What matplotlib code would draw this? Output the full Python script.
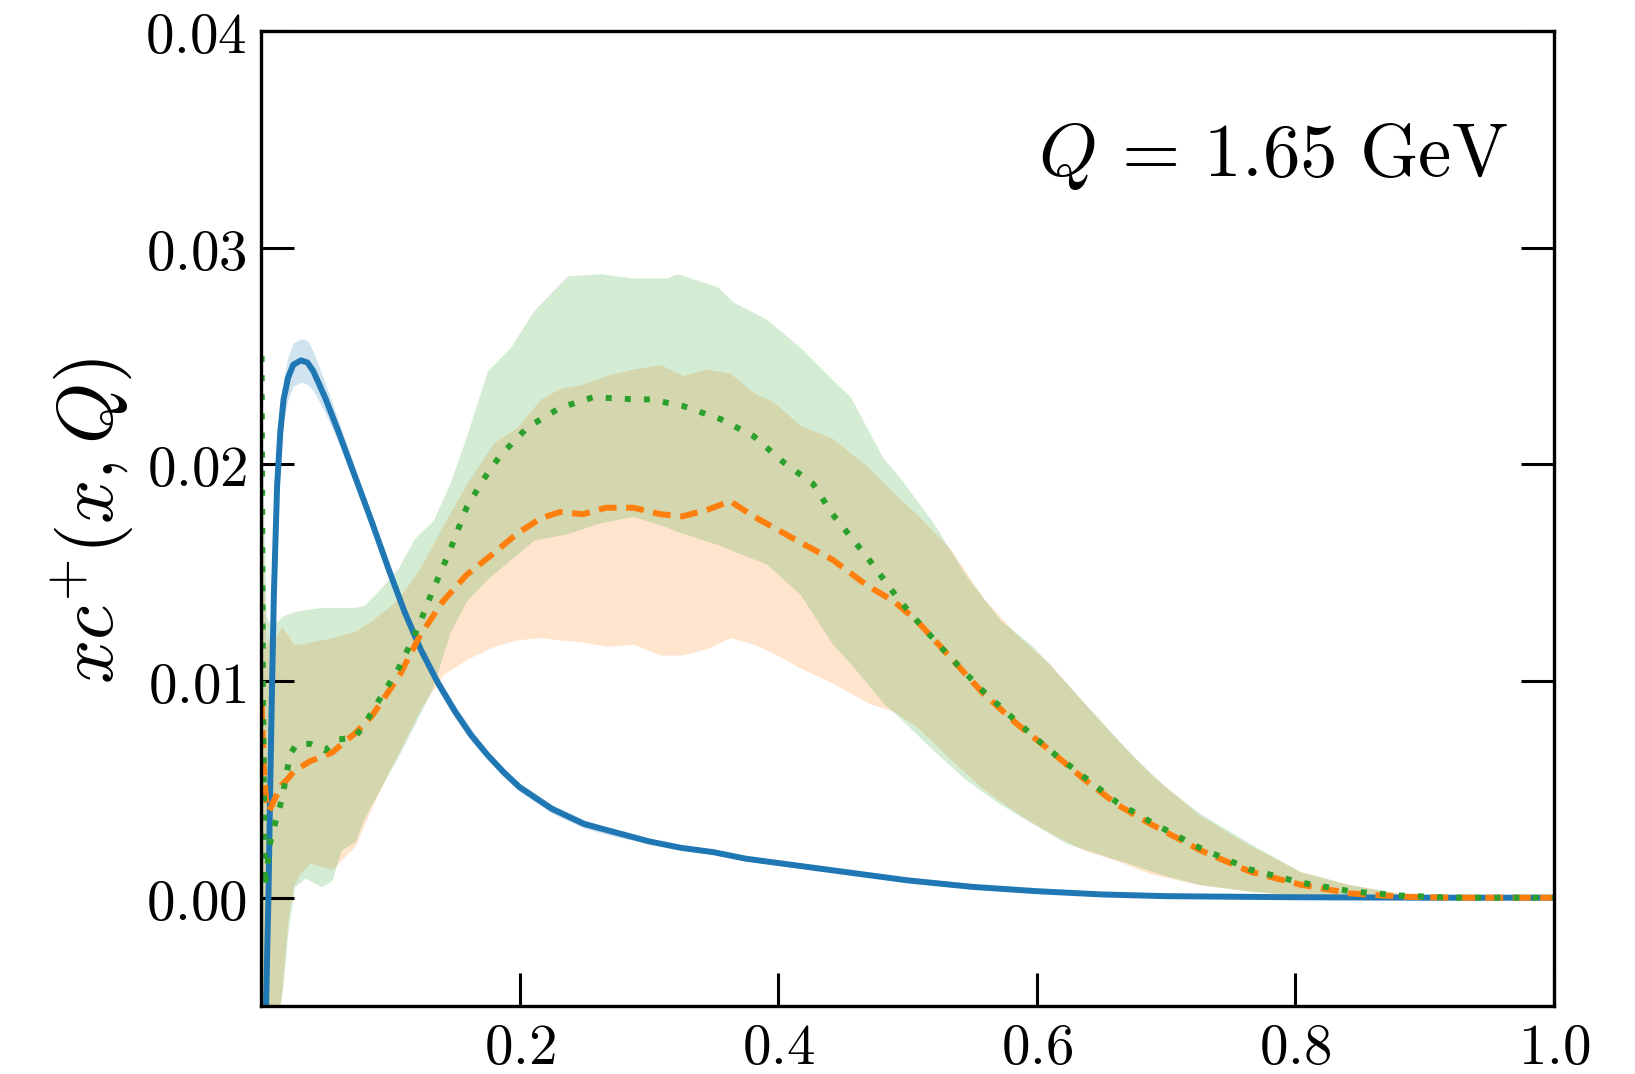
import numpy as np
import matplotlib
matplotlib.use("Agg")
import matplotlib.pyplot as plt
from matplotlib.ticker import FuncFormatter

plt.rcParams['mathtext.fontset'] = 'cm'
plt.rcParams['font.family'] = 'serif'

# === blue: solid curve + narrow band ===
blue_x = [0.0035, 0.0050, 0.0058, 0.0070, 0.0085, 0.0100, 0.0125, 0.0150, 0.0175, 0.0210,
          0.0250, 0.0310, 0.0360, 0.0405, 0.0495, 0.0600, 0.0730, 0.0860, 0.0985, 0.1110,
          0.1240, 0.1370, 0.1500, 0.1625, 0.1750, 0.1875, 0.2000, 0.2125, 0.2250, 0.2500,
          0.2750, 0.3000, 0.3250, 0.3500, 0.3750, 0.4000, 0.4500, 0.5000, 0.5500, 0.6000,
          0.6500, 0.7000, 0.8000, 0.9000, 1.0000]
blue_y = [-0.0065, -0.0020, 0.0000, 0.0045, 0.0095, 0.0140, 0.0190, 0.0215, 0.0230, 0.0240,
          0.0246, 0.0248, 0.0247, 0.0243, 0.0231, 0.0215, 0.0194, 0.0173, 0.0152, 0.0132,
          0.0114, 0.0099, 0.0086, 0.0075, 0.0066, 0.0058, 0.0051, 0.0046, 0.0041, 0.0034,
          0.0030, 0.0026, 0.0023, 0.0021, 0.0018, 0.0016, 0.0012, 0.0008, 0.0005, 0.0003,
          0.00015, 0.00007, 0.00002, 0.0, 0.0]
blue_lo = [-0.0075, -0.0030, -0.0008, 0.0036, 0.0086, 0.0130, 0.0180, 0.0205, 0.0220, 0.0230,
           0.0236, 0.0238, 0.0237, 0.0234, 0.0224, 0.0210, 0.0190, 0.0170, 0.0149, 0.0129,
           0.0111, 0.0096, 0.0083, 0.0073, 0.0064, 0.0056, 0.0049, 0.0044, 0.0039, 0.0032,
           0.0028, 0.0025, 0.0022, 0.0020, 0.0017, 0.0015, 0.0011, 0.0007, 0.0004, 0.0002,
           0.0001, 0.00005, 0.00001, 0.0, 0.0]
blue_hi = [-0.0055, -0.0010, 0.0008, 0.0054, 0.0104, 0.0150, 0.0200, 0.0225, 0.0240, 0.0250,
           0.0256, 0.0258, 0.0257, 0.0252, 0.0238, 0.0220, 0.0198, 0.0176, 0.0155, 0.0135,
           0.0117, 0.0102, 0.0089, 0.0078, 0.0068, 0.0060, 0.0053, 0.0048, 0.0043, 0.0036,
           0.0031, 0.0027, 0.0024, 0.0022, 0.0019, 0.0017, 0.0013, 0.0009, 0.0006, 0.0004,
           0.0002, 0.00009, 0.00003, 0.0, 0.0]

# === orange: dashed curve + band ===
orange_x = [0.0005, 0.0020, 0.0040, 0.0060, 0.0080, 0.0110, 0.0160, 0.0210, 0.0250, 0.0300,
            0.0380, 0.0550, 0.0730, 0.0860, 0.0985, 0.1075, 0.1230, 0.1410, 0.1590, 0.1800,
            0.1980, 0.2160, 0.2310, 0.2490, 0.2670, 0.2880, 0.3090, 0.3260, 0.3450, 0.3630,
            0.3810, 0.3960, 0.4170, 0.4420, 0.4690, 0.4890, 0.5070, 0.5330, 0.5590, 0.5850,
            0.6100, 0.6360, 0.6620, 0.6880, 0.7260, 0.7650, 0.8040, 0.8420, 0.8810, 0.9200, 1.0000]
orange_y = [0.0090, 0.0062, 0.0045, 0.0040, 0.0042, 0.0046, 0.0052, 0.0055, 0.0058, 0.0060,
            0.0063, 0.0067, 0.0076, 0.0084, 0.0095, 0.0103, 0.0121, 0.0137, 0.0149, 0.0159,
            0.0168, 0.0175, 0.0178, 0.0177, 0.0180, 0.0180, 0.0177, 0.0176, 0.0179, 0.0183,
            0.0176, 0.0171, 0.0164, 0.0156, 0.0144, 0.0137, 0.0128, 0.0111, 0.0094, 0.0080,
            0.0068, 0.0055, 0.0043, 0.0034, 0.0022, 0.0012, 0.0006, 0.0002, 0.00005, 0.0, 0.0]
orange_lo = [-0.0080, -0.0080, -0.0080, -0.0075, -0.0070, -0.0060, -0.0045, -0.0009, 0.0005, 0.0011,
             0.0016, 0.0013, 0.0024, 0.0042, 0.0058, 0.0068, 0.0087, 0.0103, 0.0110, 0.0116,
             0.0119, 0.0120, 0.0119, 0.0118, 0.0116, 0.0117, 0.0112, 0.0112, 0.0115, 0.0120,
             0.0117, 0.0113, 0.0106, 0.0099, 0.0090, 0.0086, 0.0079, 0.0064, 0.0050, 0.0039,
             0.0030, 0.0022, 0.0017, 0.0011, 0.0006, 0.0003, 0.0001, 0.0, 0.0, 0.0, 0.0]
orange_hi = [0.0200, 0.0150, 0.0115, 0.0120, 0.0118, 0.0120, 0.0125, 0.0121, 0.0117, 0.0117,
             0.0118, 0.0120, 0.0123, 0.0128, 0.0134, 0.0139, 0.0152, 0.0172, 0.0191, 0.0210,
             0.0217, 0.0230, 0.0235, 0.0237, 0.0241, 0.0244, 0.0246, 0.0241, 0.0244, 0.0242,
             0.0233, 0.0229, 0.0218, 0.0212, 0.0199, 0.0187, 0.0177, 0.0161, 0.0138, 0.0121,
             0.0108, 0.0090, 0.0073, 0.0057, 0.0038, 0.0024, 0.0012, 0.0006, 0.0002, 0.0, 0.0]

# === green: dotted curve + band ===
green_x = [0.0005, 0.0015, 0.0030, 0.0050, 0.0070, 0.0108, 0.0147, 0.0173, 0.0198, 0.0224,
           0.0276, 0.0380, 0.0495, 0.0598, 0.0727, 0.0800, 0.0882, 0.0960, 0.1040, 0.1100,
           0.1217, 0.1330, 0.1460, 0.1590, 0.1720, 0.1850, 0.2060, 0.2310, 0.2570, 0.2880,
           0.3010, 0.3260, 0.3550, 0.3810, 0.4040, 0.4270, 0.4420, 0.4690, 0.4940, 0.5070,
           0.5330, 0.5590, 0.5850, 0.6100, 0.6360, 0.6620, 0.6880, 0.7260, 0.7650, 0.8040,
           0.8420, 0.8810, 0.9200, 1.0000]
green_y = [0.0250, 0.0100, 0.0005, 0.0015, 0.0025, 0.0034, 0.0042, 0.0049, 0.0057, 0.0066,
           0.0071, 0.0071, 0.0068, 0.0073, 0.0074, 0.0080, 0.0088, 0.0096, 0.0103, 0.0110,
           0.0125, 0.0142, 0.0160, 0.0180, 0.0193, 0.0204, 0.0217, 0.0226, 0.0231, 0.0230,
           0.0230, 0.0227, 0.0221, 0.0213, 0.0201, 0.0191, 0.0177, 0.0157, 0.0137, 0.0128,
           0.0111, 0.0095, 0.0081, 0.0068, 0.0056, 0.0044, 0.0035, 0.0023, 0.0013, 0.0007,
           0.0003, 0.0001, 0.0, 0.0]
green_band_x = [0.0005, 0.0020, 0.0040, 0.0080, 0.0130, 0.0170, 0.0210, 0.0260, 0.0340, 0.0470,
                0.0550, 0.0620, 0.0730, 0.0800, 0.0930, 0.1060, 0.1190, 0.1330, 0.1460, 0.1590,
                0.1750, 0.1930, 0.2110, 0.2370, 0.2620, 0.2880, 0.3140, 0.3220, 0.3530, 0.3650,
                0.3910, 0.4170, 0.4420, 0.4560, 0.4810, 0.4940, 0.5200, 0.5460, 0.5720, 0.5970,
                0.6230, 0.6490, 0.6750, 0.7000, 0.7260, 0.7650, 0.8040, 0.8420, 0.8810, 0.9200, 1.0000]
green_lo = [-0.0080, -0.0080, -0.0080, -0.0075, -0.0060, -0.0040, -0.0015, 0.0005, 0.0009, 0.0005,
            0.0008, 0.0022, 0.0026, 0.0037, 0.0051, 0.0065, 0.0080, 0.0097, 0.0122, 0.0137,
            0.0147, 0.0156, 0.0165, 0.0168, 0.0173, 0.0176, 0.0171, 0.0169, 0.0163, 0.0160,
            0.0154, 0.0140, 0.0117, 0.0108, 0.0090, 0.0083, 0.0068, 0.0054, 0.0043, 0.0034,
            0.0025, 0.0020, 0.0015, 0.0010, 0.0006, 0.0003, 0.0001, 0.0, 0.0, 0.0, 0.0]
green_hi = [0.0260, 0.0180, 0.0130, 0.0125, 0.0128, 0.0130, 0.0131, 0.0132, 0.0133, 0.0134,
            0.0134, 0.0134, 0.0134, 0.0135, 0.0143, 0.0152, 0.0166, 0.0174, 0.0191, 0.0213,
            0.0243, 0.0254, 0.0271, 0.0287, 0.0288, 0.0286, 0.0286, 0.0288, 0.0282, 0.0275,
            0.0267, 0.0254, 0.0239, 0.0231, 0.0203, 0.0194, 0.0173, 0.0148, 0.0128, 0.0116,
            0.0099, 0.0082, 0.0065, 0.0051, 0.0039, 0.0025, 0.0012, 0.0006, 0.0002, 0.0, 0.0]

x_ticks = [0.2, 0.4, 0.6, 0.8, 1.0]
y_ticks = [0.00, 0.01, 0.02, 0.03, 0.04]

fig = plt.figure(figsize=(16.35, 10.74), dpi=100)
ax = fig.add_axes([0.1596, 0.0633, 0.7909, 0.9078])

lw = 4.3
ax.fill_between(blue_x, blue_lo, blue_hi, color='C0', alpha=0.2, lw=0)
ax.fill_between(orange_x, orange_lo, orange_hi, color='C1', alpha=0.2, lw=0)
ax.fill_between(green_band_x, green_lo, green_hi, color='C2', alpha=0.2, lw=0)
ax.plot(blue_x, blue_y, color='C0', lw=lw, ls='-')
ax.plot(orange_x, orange_y, color='C1', lw=lw, ls=(0, (3.0, 1.6)))
ax.plot(green_x, green_y, color='C2', lw=lw, ls=(0, (1, 2.2)))

ax.set_xlim(0, 1)
ax.set_ylim(-0.005, 0.04)
ax.set_xticks(x_ticks)
ax.set_yticks(y_ticks)
ax.xaxis.set_major_formatter(FuncFormatter(lambda v, p: f'${v:.1f}$'))
ax.yaxis.set_major_formatter(FuncFormatter(lambda v, p: f'${v:.2f}$'))
ax.tick_params(axis='both', which='major', direction='in', length=24, width=2.2,
               labelsize=41, left=True, right=True, top=False, bottom=True)
ax.tick_params(axis='x', pad=10)
ax.tick_params(axis='y', pad=10)
for s in ax.spines.values():
    s.set_linewidth(2.4)

ax.text(0.964, 0.872, r'$Q\,=\,1.65~\mathrm{GeV}$', transform=ax.transAxes,
        ha='right', va='center', fontsize=54)
fig.text(0.057, 0.515, r'$xc^{+}(x,Q)$', rotation=90, ha='center', va='center', fontsize=56)

fig.savefig('out.png', dpi=100)
